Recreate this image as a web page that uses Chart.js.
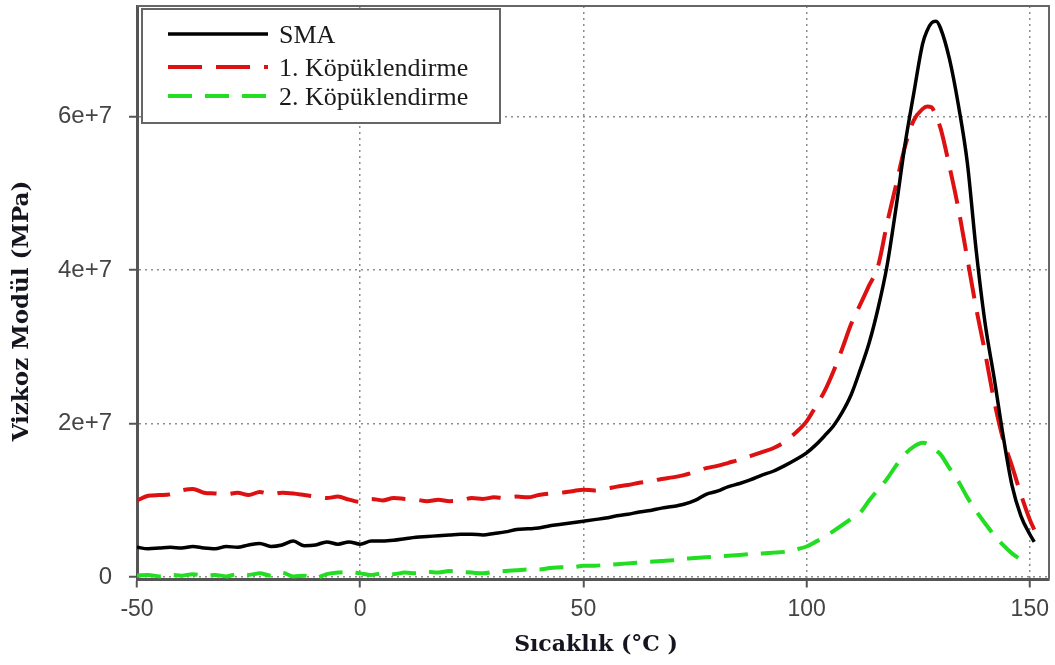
<!DOCTYPE html>
<html>
<head>
<meta charset="utf-8">
<script src="https://cdn.jsdelivr.net/npm/chart.js@4.4.1/dist/chart.umd.min.js"></script>
<style>
  html, body { margin: 0; padding: 0; background: #fff; }
  canvas { display: block; }
</style>
</head>
<body>
<canvas id="dmaChart" width="1055" height="665"></canvas>
<script>
// sıcaklık noktaları (°C)
const temps = [-50, -47.5, -45, -42.5, -40, -37.5, -35, -32.5, -30, -27.5,
  -25, -22.5, -20, -17.5, -15, -12.5, -10, -7.5, -5, -2.5,
  0, 2.5, 5, 7.5, 10, 12.5, 15, 17.5, 20, 22.5,
  25, 27.5, 30, 32.5, 35, 37.5, 40, 42.5, 45, 47.5,
  50, 52.5, 55, 57.5, 60, 62.5, 65, 67.5, 70, 72.5,
  75, 77.5, 80, 82.5, 85, 87.5, 90, 92.5, 95, 97.5,
  100, 102, 104, 106, 108, 110, 112, 114, 116, 118, 120, 122, 124, 126,
  127, 128, 129, 130, 132, 134, 136, 138, 140, 142, 144, 146, 148, 150, 151];

// viskoz modül, 1e7 MPa biriminde
const smaValues = [0.39, 0.37, 0.38, 0.39, 0.38, 0.40, 0.38, 0.37, 0.40, 0.39,
  0.42, 0.44, 0.40, 0.42, 0.47, 0.41, 0.42, 0.46, 0.43, 0.46,
  0.43, 0.47, 0.47, 0.48, 0.50, 0.52, 0.53, 0.54, 0.55, 0.56,
  0.56, 0.55, 0.57, 0.59, 0.62, 0.63, 0.64, 0.67, 0.69, 0.71,
  0.73, 0.75, 0.77, 0.80, 0.82, 0.85, 0.87, 0.90, 0.92, 0.95,
  1.00, 1.08, 1.12, 1.18, 1.22, 1.27, 1.33, 1.38, 1.45, 1.53,
  1.62, 1.72, 1.84, 1.97, 2.15, 2.38, 2.70, 3.05, 3.50, 4.05, 4.80, 5.62, 6.30, 6.95,
  7.12, 7.22, 7.24, 7.15, 6.75, 6.15, 5.40, 4.25, 3.30, 2.60, 1.85, 1.20, 0.80, 0.56, 0.46];

const kopuk1Values = [1.00, 1.06, 1.07, 1.08, 1.13, 1.15, 1.10, 1.09, 1.08, 1.10,
  1.07, 1.11, 1.08, 1.10, 1.09, 1.07, 1.05, 1.03, 1.05, 1.01,
  0.98, 1.02, 1.00, 1.03, 1.02, 1.01, 0.99, 1.01, 0.99, 1.00,
  1.03, 1.02, 1.04, 1.03, 1.05, 1.04, 1.07, 1.09, 1.10, 1.12,
  1.14, 1.13, 1.15, 1.18, 1.20, 1.23, 1.25, 1.28, 1.30, 1.33,
  1.37, 1.42, 1.45, 1.49, 1.53, 1.58, 1.63, 1.68, 1.76, 1.88,
  2.03, 2.22, 2.42, 2.68, 2.98, 3.30, 3.55, 3.80, 4.05, 4.60, 5.10, 5.60, 5.95, 6.10,
  6.13, 6.12, 6.00, 5.85, 5.35, 4.80, 4.15, 3.50, 2.92, 2.30, 1.80, 1.45, 1.08, 0.75, 0.62];

const kopuk2Values = [0.02, 0.03, 0.01, 0.03, 0.02, 0.04, 0.02, 0.03, 0.01, 0.04,
  0.03, 0.05, 0.02, 0.06, 0.01, 0.02, -0.01, 0.04, 0.06, 0.07,
  0.05, 0.03, 0.05, 0.04, 0.06, 0.05, 0.07, 0.06, 0.08, 0.07,
  0.06, 0.05, 0.07, 0.08, 0.09, 0.10, 0.10, 0.12, 0.13, 0.13,
  0.15, 0.15, 0.16, 0.17, 0.18, 0.19, 0.20, 0.21, 0.22, 0.24,
  0.25, 0.26, 0.27, 0.28, 0.29, 0.30, 0.31, 0.32, 0.33, 0.36,
  0.40, 0.46, 0.52, 0.60, 0.68, 0.76, 0.84, 1.00, 1.14, 1.28, 1.45, 1.60, 1.70, 1.75,
  1.74, 1.70, 1.65, 1.60, 1.42, 1.25, 1.04, 0.86, 0.70, 0.55, 0.42, 0.31, 0.23, 0.17, null];

const seriesLabels = ['SMA', '1. Köpüklendirme', '2. Köpüklendirme'];
const xTicks = [-50, 0, 50, 100, 150];
const yTicks = [0, 2e7, 4e7, 6e7];

const toPoints = vals => temps.map((t, i) => ({ x: t, y: vals[i] === null ? null : vals[i] * 1e7 }));

// grafiğin içine çizilen lejant kutusu
const insideLegend = {
  id: 'insideLegend',
  afterDraw(chart) {
    const ctx = chart.ctx;
    const a = chart.chartArea;
    const bx = a.left + 5, by = a.top + 3, bw = 358, bh = 114;
    ctx.save();
    ctx.fillStyle = '#fff';
    ctx.fillRect(bx, by, bw, bh);
    ctx.strokeStyle = '#666';
    ctx.lineWidth = 2;
    ctx.strokeRect(bx, by, bw, bh);
    const rows = [by + 25, by + 58, by + 87];
    ctx.font = '26px "Liberation Serif", "Times New Roman", serif';
    ctx.textBaseline = 'middle';
    chart.data.datasets.forEach((ds, i) => {
      const y = rows[i];
      ctx.strokeStyle = ds.borderColor;
      ctx.lineWidth = ds.borderWidth;
      ctx.setLineDash(ds.borderDash || []);
      ctx.beginPath();
      ctx.moveTo(bx + 26, y);
      ctx.lineTo(bx + 126, y);
      ctx.stroke();
      ctx.setLineDash([]);
      ctx.fillStyle = '#1a1a1a';
      ctx.fillText(ds.label, bx + 137, y + 2);
    });
    ctx.restore();
  }
};

// çerçeve ve eksen başlıkları
const frameAndTitles = {
  id: 'frameAndTitles',
  afterDraw(chart) {
    const ctx = chart.ctx;
    const a = chart.chartArea;
    ctx.save();
    ctx.strokeStyle = '#666';
    ctx.lineWidth = 2;
    ctx.beginPath();
    ctx.moveTo(a.left, a.top);
    ctx.lineTo(a.right, a.top);
    ctx.lineTo(a.right, a.bottom);
    ctx.stroke();

    ctx.fillStyle = '#15151f';
    ctx.textAlign = 'center';
    ctx.textBaseline = 'middle';
    ctx.font = 'bold 22px "DejaVu Serif", serif';
    ctx.fillText('Sıcaklık (°C )', 596, 645);
    ctx.font = 'bold 23px "DejaVu Serif", serif';
    ctx.translate(22, 311);
    ctx.rotate(-Math.PI / 2);
    ctx.fillText('Vizkoz Modül (MPa)', 0, 0);
    ctx.restore();
  }
};

const gridStyle = {
  color: '#8c8c8c',
  lineWidth: 1.5,
  tickColor: '#555',
  tickBorderDash: [],
  tickLength: 8,
  tickWidth: 2
};
// v4: grid çizgilerinin kesikli deseni border.dash ile verilir
const borderStyle = { display: true, color: '#555', width: 3, dash: [2, 4] };

new Chart(document.getElementById('dmaChart'), {
  type: 'line',
  data: {
    datasets: [
      {
        label: seriesLabels[0],
        data: toPoints(smaValues),
        borderColor: '#000',
        borderWidth: 3.5,
        pointRadius: 0,
        cubicInterpolationMode: 'monotone'
      },
      {
        label: seriesLabels[1],
        data: toPoints(kopuk1Values),
        borderColor: '#dd1111',
        borderWidth: 4,
        borderDash: [34, 14],
        pointRadius: 0,
        cubicInterpolationMode: 'monotone'
      },
      {
        label: seriesLabels[2],
        data: toPoints(kopuk2Values),
        borderColor: '#22dd22',
        borderWidth: 4,
        borderDash: [24, 13],
        pointRadius: 0,
        cubicInterpolationMode: 'monotone'
      }
    ]
  },
  options: {
    responsive: false,
    animation: false,
    layout: { padding: { top: 6, right: 6, left: 0, bottom: 0 } },
    plugins: {
      legend: { display: false },
      tooltip: { enabled: false }
    },
    scales: {
      x: {
        type: 'linear',
        min: -50,
        max: 154.3,
        afterBuildTicks: s => { s.ticks = xTicks.map(v => ({ value: v })); },
        afterFit: s => { s.height = 85.5; s.paddingLeft = 0; s.paddingRight = 0; },
        grid: gridStyle,
        border: borderStyle,
        ticks: {
          color: '#444',
          font: { family: '"Liberation Sans", Arial, sans-serif', size: 23 },
          padding: 8,
          maxRotation: 0
        }
      },
      y: {
        type: 'linear',
        min: -3e5,
        max: 7.44e7,
        afterBuildTicks: s => { s.ticks = yTicks.map(v => ({ value: v })); },
        afterFit: s => { s.width = 137; s.paddingTop = 0; s.paddingBottom = 0; },
        grid: gridStyle,
        border: borderStyle,
        ticks: {
          color: '#444',
          font: { family: '"Liberation Sans", Arial, sans-serif', size: 24 },
          padding: 17,
          callback: v => v === 0 ? '0' : (v / 1e7) + 'e+7'
        }
      }
    }
  },
  plugins: [frameAndTitles, insideLegend]
});
</script>
</body>
</html>
